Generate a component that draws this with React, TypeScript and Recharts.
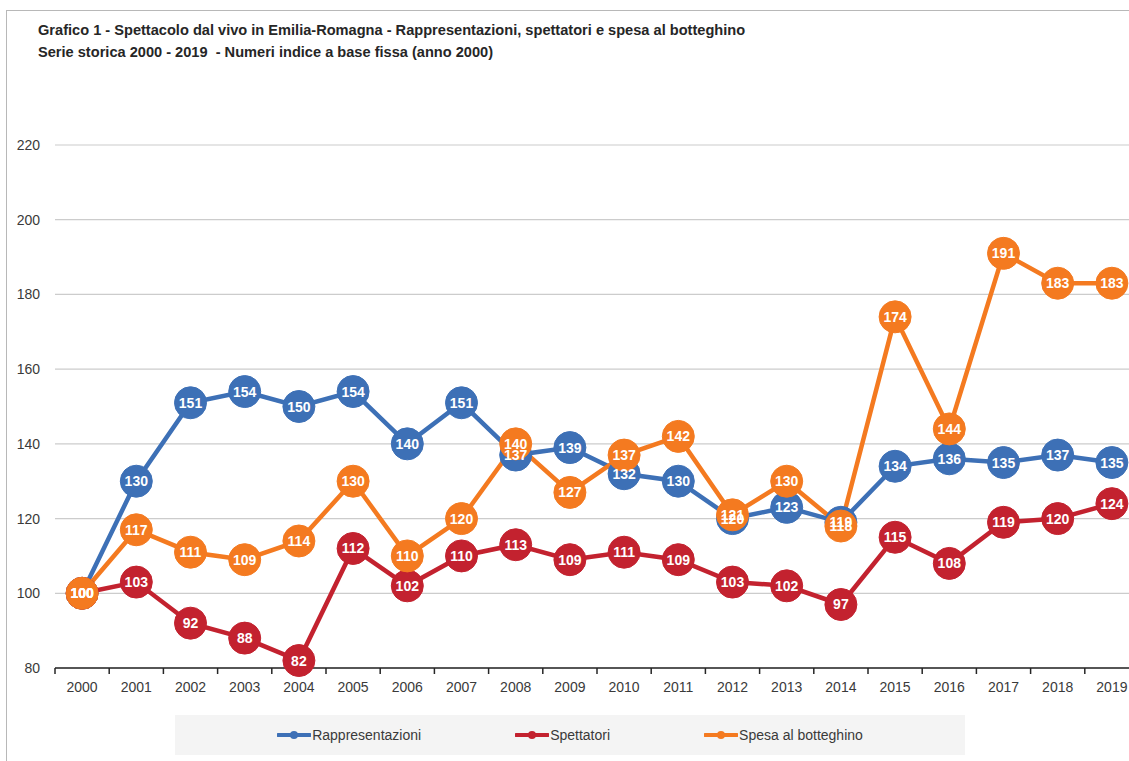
import React from 'react';
import { LineChart, Line, XAxis, YAxis, CartesianGrid, LabelList, Legend } from 'recharts';

const years = ['2000','2001','2002','2003','2004','2005','2006','2007','2008','2009','2010','2011','2012','2013','2014','2015','2016','2017','2018','2019'];
const rappresentazioni = [100,130,151,154,150,154,140,151,137,139,132,130,120,123,119,134,136,135,137,135];
const spettatori = [100,103,92,88,82,112,102,110,113,109,111,109,103,102,97,115,108,119,120,124];
const spesa = [100,117,111,109,114,130,110,120,140,127,137,142,121,130,118,174,144,191,183,183];
const yTicks = [80,100,120,140,160,180,200,220];

const seriesNames = ['Rappresentazioni', 'Spettatori', 'Spesa al botteghino'];
const colors = ['#3D70B6', '#C3222F', '#F47A20'];

const data = years.map((y, i) => ({ year: y, rap: rappresentazioni[i], spe: spettatori[i], bot: spesa[i] }));

const FONT = '"Liberation Sans", Arial, sans-serif';
const W = 1150;
const H = 761;
const M = { top: 145, right: 11, left: 10, bottom: 23 };
const YW = 45;
const BAND = (W - M.left - M.right - YW) / years.length;

const XTick = (props: any) => {
  const { x, y, payload, index } = props;
  const half = payload && typeof payload.offset === 'number' && payload.offset > 0 ? payload.offset : BAND / 2;
  const cx = payload.coordinate ?? x;
  const axisY = y - 14;
  return (
    <g>
      <line x1={cx - half} x2={cx - half} y1={axisY} y2={axisY + 6} stroke="#262626" strokeWidth={1.5} />
      {index === years.length - 1 && (
        <line x1={cx + half} x2={cx + half} y1={axisY} y2={axisY + 6} stroke="#262626" strokeWidth={1.5} />
      )}
      <text x={x} y={y} dy="0.71em" textAnchor="middle" fill="#3a3a3a" fontSize={14} fontFamily={FONT}>
        {payload.value}
      </text>
    </g>
  );
};

const makeLabel = () => (props: any) => {
  const { x, y, value } = props;
  if (x == null || y == null) return null;
  return (
    <text x={x} y={y} dy={5} textAnchor="middle" fill="#ffffff" fontSize={14} fontWeight="bold" fontFamily={FONT}>
      {value}
    </text>
  );
};

const LegendContent = () => (
  <div
    style={{
      width: 790,
      height: 40,
      background: '#f4f4f4',
      display: 'flex',
      alignItems: 'center',
      justifyContent: 'center',
      gap: 94,
      fontFamily: FONT,
      fontSize: 14,
      color: '#3a3a3a',
    }}
  >
    {seriesNames.map((n, i) => (
      <div key={n} style={{ display: 'flex', alignItems: 'center' }}>
        <svg width={34} height={10} style={{ marginRight: 1 }}>
          <line x1={1} x2={33} y1={5} y2={5} stroke={colors[i]} strokeWidth={4} strokeLinecap="round" />
          <circle cx={17} cy={5} r={4} fill={colors[i]} />
        </svg>
        <span>{n}</span>
      </div>
    ))}
  </div>
);

const keys = ['rap', 'spe', 'bot'];

export default function App() {
  return (
    <div style={{ position: 'absolute', left: 0, top: 0, width: 1129, height: 761, overflow: 'hidden', background: '#ffffff' }}>
      <div
        style={{
          position: 'absolute',
          left: 6,
          top: 10,
          width: 1200,
          height: 800,
          borderLeft: '1.5px solid #b8b8b8',
          borderTop: '1.5px solid #b8b8b8',
        }}
      />
      <div
        style={{
          position: 'absolute',
          left: 38,
          top: 19,
          fontFamily: FONT,
          fontWeight: 'bold',
          fontSize: 14.6,
          lineHeight: '22px',
          color: '#262626',
          whiteSpace: 'nowrap',
        }}
      >
        <div>Grafico 1 - Spettacolo dal vivo in Emilia-Romagna - Rappresentazioni, spettatori e spesa al botteghino</div>
        <div>Serie storica 2000 - 2019&nbsp; - Numeri indice a base fissa (anno 2000)</div>
      </div>
      <div style={{ position: 'absolute', left: 0, top: 0 }}>
        <LineChart width={W} height={H} data={data} margin={M}>
          <CartesianGrid horizontal={true} vertical={false} stroke="#cccccc" strokeWidth={1.2} />
          <XAxis
            dataKey="year"
            scale="band"
            interval={0}
            height={30}
            tickLine={false}
            tickMargin={8}
            axisLine={{ stroke: '#262626', strokeWidth: 1.5 }}
            tick={<XTick />}
          />
          <YAxis
            width={YW}
            domain={[80, 220]}
            ticks={yTicks}
            interval={0}
            axisLine={false}
            tickLine={false}
            tickMargin={9}
            tick={{ fill: '#3a3a3a', fontSize: 14, fontFamily: FONT }}
          />
          <Legend
            content={<LegendContent />}
            wrapperStyle={{ left: 175, top: 715, width: 790, height: 40 }}
          />
          {keys.map((k, i) => (
            <Line
              key={k}
              type="linear"
              dataKey={k}
              name={seriesNames[i]}
              stroke={colors[i]}
              strokeWidth={4.5}
              dot={{ r: 16, fill: colors[i], stroke: colors[i], strokeWidth: 1 }}
              activeDot={false}
              isAnimationActive={false}
            />
          ))}
          {keys.map((k, i) => (
            <Line
              key={k + '-lbl'}
              type="linear"
              dataKey={k}
              stroke="none"
              strokeWidth={0}
              dot={false}
              activeDot={false}
              legendType="none"
              isAnimationActive={false}
            >
              <LabelList dataKey={k} content={makeLabel()} />
            </Line>
          ))}
        </LineChart>
      </div>
    </div>
  );
}
